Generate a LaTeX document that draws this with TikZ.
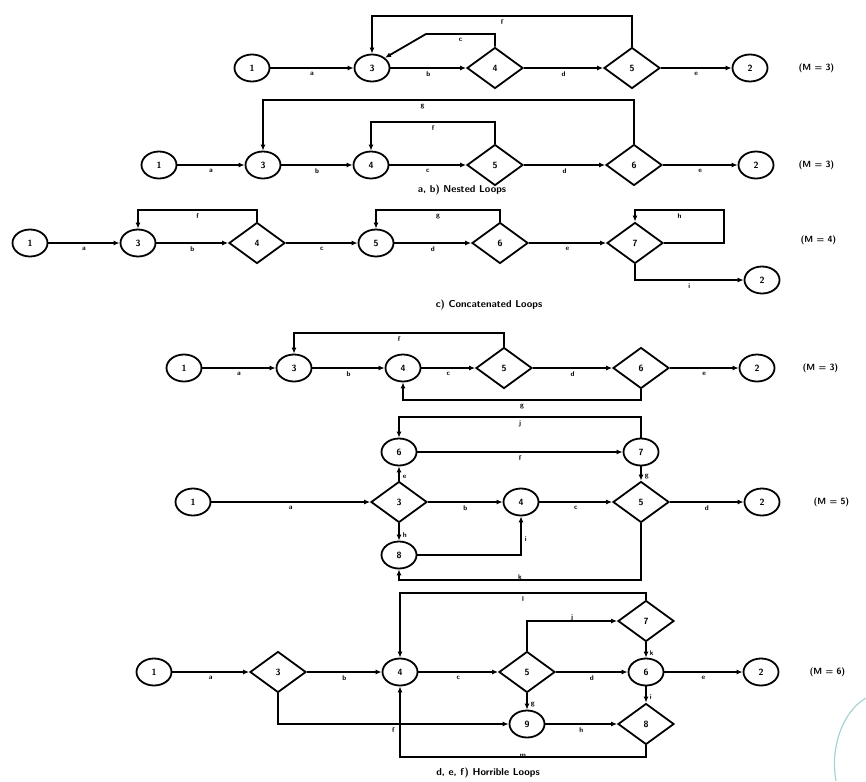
\documentclass[tikz,border=0pt]{standalone}
\usetikzlibrary{arrows.meta,shapes.geometric}

\begin{document}
\begin{tikzpicture}[x=1pt,y=-1pt,
  cnode/.style={draw, ellipse, line width=1.8pt, minimum width=35pt, minimum height=27pt, inner sep=0pt, font=\sffamily\bfseries\fontsize{9}{9}\selectfont},
  dnode/.style={draw, diamond, line width=1.8pt, minimum width=56pt, minimum height=41pt, inner sep=0pt, font=\sffamily\bfseries\fontsize{9}{9}\selectfont},
  flow/.style={line width=1.8pt, -{Latex[length=6pt,width=5pt]}},
  elab/.style={font=\sffamily\bfseries\fontsize{7}{7}\selectfont, below=3pt, inner sep=0pt},
  mlab/.style={font=\sffamily\bfseries\fontsize{9}{9}\selectfont, anchor=west},
  captxt/.style={font=\sffamily\bfseries\fontsize{10}{10}\selectfont}]
\useasboundingbox (0,0) rectangle (866,781);

% a) nested loops
\node[cnode] (a1) at (252,68) {1};
\node[cnode] (a3) at (372,68) {3};
\node[dnode] (a4) at (495,68) {4};
\node[dnode] (a5) at (632,68) {5};
\node[cnode] (a2) at (750,68) {2};
\node[mlab] (ma) at (795,68) {(M = 3)};
\draw[flow] (a1) -- node[elab] {a} (a3);
\draw[flow] (a3) -- node[elab] {b} (a4);
\draw[flow] (a4) -- node[elab] {d} (a5);
\draw[flow] (a5) -- node[elab] {e} (a2);
\draw[flow] (a4.north) -- (a4.north |- 0,34) -- node[elab] {c} (426,34) -- (a3.north east);
\draw[flow] (a5.north) -- (a5.north |- 0,16) -- node[elab] {f} (a3.north |- 0,16) -- (a3.north);

% b) nested loops
\node[cnode] (b1) at (159,165) {1};
\node[cnode] (b3) at (263,165) {3};
\node[cnode] (b4) at (371,165) {4};
\node[dnode] (b5) at (495,165) {5};
\node[dnode] (b6) at (634,165) {6};
\node[cnode] (b2) at (756,165) {2};
\node[mlab] (mb) at (795,165) {(M = 3)};
\draw[flow] (b1) -- node[elab] {a} (b3);
\draw[flow] (b3) -- node[elab] {b} (b4);
\draw[flow] (b4) -- node[elab] {c} (b5);
\draw[flow] (b5) -- node[elab] {d} (b6);
\draw[flow] (b6) -- node[elab] {e} (b2);
\draw[flow] (b5.north) -- (b5.north |- 0,122) -- node[elab] {f} (b4.north |- 0,122) -- (b4.north);
\draw[flow] (b6.north) -- (b6.north |- 0,100) -- node[elab, pos=0.57] {g} (b3.north |- 0,100) -- (b3.north);
\node[captxt] (capab) at (462,190) {a, b) Nested Loops};

% c) concatenated loops
\node[cnode] (c1) at (30,243) {1};
\node[cnode] (c3) at (138,243) {3};
\node[dnode] (c4) at (257,243) {4};
\node[cnode] (c5) at (376,243) {5};
\node[dnode] (c6) at (500,243) {6};
\node[dnode] (c7) at (635,243) {7};
\node[cnode] (c2) at (762,280) {2};
\node[mlab] (mc) at (797,240) {(M = 4)};
\draw[flow] (c1) -- node[elab] {a} (c3);
\draw[flow] (c3) -- node[elab] {b} (c4);
\draw[flow] (c4) -- node[elab] {c} (c5);
\draw[flow] (c5) -- node[elab] {d} (c6);
\draw[flow] (c6) -- node[elab] {e} (c7);
\draw[flow] (c4.north) -- (c4.north |- 0,210) -- node[elab] {f} (c3.north |- 0,210) -- (c3.north);
\draw[flow] (c6.north) -- (c6.north |- 0,210) -- node[elab] {g} (c5.north |- 0,210) -- (c5.north);
\draw[flow] (c7.east) -- (724,243) -- (724,210) -- node[elab] {h} (c7.north |- 0,210) -- (c7.north);
\draw[flow] (c7.south) -- (c7.south |- c2.west) -- node[elab] {i} (c2.west);
\node[captxt] (capc) at (489,305) {c) Concatenated Loops};

% d) horrible loops
\node[cnode] (d1) at (184,368) {1};
\node[cnode] (d3) at (294,368) {3};
\node[cnode] (d4) at (403,368) {4};
\node[dnode] (d5) at (504,368) {5};
\node[dnode] (d6) at (641,368) {6};
\node[cnode] (d2) at (757,368) {2};
\node[mlab] (md) at (799,368) {(M = 3)};
\draw[flow] (d1) -- node[elab] {a} (d3);
\draw[flow] (d3) -- node[elab] {b} (d4);
\draw[flow] (d4) -- node[elab] {c} (d5);
\draw[flow] (d5) -- node[elab] {d} (d6);
\draw[flow] (d6) -- node[elab] {e} (d2);
\draw[flow] (d5.north) -- (d5.north |- 0,333) -- node[elab] {f} (d3.north |- 0,333) -- (d3.north);
\draw[flow] (d6.south) -- (d6.south |- 0,400) -- node[elab] {g} (d4.south |- 0,400) -- (d4.south);

% e) horrible loops
\node[cnode] (e1) at (193,502) {1};
\node[dnode] (e3) at (399,502) {3};
\node[cnode] (e4) at (521,502) {4};
\node[dnode] (e5) at (641,502) {5};
\node[cnode] (e2) at (762,502) {2};
\node[cnode] (e6) at (399,452) {6};
\node[cnode] (e7) at (641,452) {7};
\node[cnode] (e8) at (399,555) {8};
\node[mlab] (me) at (810,502) {(M = 5)};
\draw[flow] (e1) -- node[elab] {a} (e3);
\draw[flow] (e3) -- node[elab] {b} (e4);
\draw[flow] (e4) -- node[elab] {c} (e5);
\draw[flow] (e5) -- node[elab] {d} (e2);
\draw[flow] (e3) -- node[elab, below=0pt, right=3pt] {e} (e6);
\draw[flow] (e6) -- node[elab] {f} (e7);
\draw[flow] (e7) -- node[elab, below=0pt, right=3pt] {g} (e5);
\draw[flow] (e3) -- node[elab, below=0pt, right=3pt] {h} (e8);
\draw[flow] (e8.east) -- (e4.south |- e8.east) -- node[elab, below=0pt, right=3pt] {i} (e4.south);
\draw[flow] (e7.north) -- (e7.north |- 0,417) -- node[elab] {j} (e6.north |- 0,417) -- (e6.north);
\draw[flow] (e5.south) -- (e5.south |- 0,580) -- node[elab, below=0pt, above=3pt] {k} (e8.south |- 0,580) -- (e8.south);

% f) horrible loops
\node[cnode] (f1) at (154,672) {1};
\node[dnode] (f3) at (278,672) {3};
\node[cnode] (f4) at (400,672) {4};
\node[dnode] (f5) at (527,672) {5};
\node[cnode] (f6) at (646,672) {6};
\node[cnode] (f2) at (761,672) {2};
\node[dnode] (f7) at (646,621) {7};
\node[cnode] (f9) at (527,724) {9};
\node[dnode] (f8) at (646,724) {8};
\node[mlab] (mf) at (806,672) {(M = 6)};
\draw[flow] (f1) -- node[elab] {a} (f3);
\draw[flow] (f3) -- node[elab] {b} (f4);
\draw[flow] (f4) -- node[elab] {c} (f5);
\draw[flow] (f5) -- node[elab] {d} (f6);
\draw[flow] (f6) -- node[elab] {e} (f2);
\draw[flow] (f3.south) -- (f3.south |- f9.west) -- node[elab] {f} (f9.west);
\draw[flow] (f5) -- node[elab, below=0pt, right=3pt] {g} (f9);
\draw[flow] (f9) -- node[elab] {h} (f8);
\draw[flow] (f6) -- node[elab, below=0pt, right=3pt] {i} (f8);
\draw[flow] (f5.north) -- (f5.north |- f7.west) -- node[elab, below=0pt, above=2pt] {j} (f7.west);
\draw[flow] (f7) -- node[elab, below=0pt, right=3pt] {k} (f6);
\draw[flow] (f7.north) -- (f7.north |- 0,593) -- node[elab] {l} (f4.north |- 0,593) -- (f4.north);
\draw[flow] (f8.south) -- (f8.south |- 0,757) -- node[elab, below=0pt, above=2pt] {m} (f4.south |- 0,757) -- (f4.south);
\node[captxt] (capdef) at (488,773) {d, e, f) Horrible Loops};

\draw[teal!35, line width=1.2pt] (866,698) .. controls (842,712) and (830,748) .. (836,781);
\end{tikzpicture}
\end{document}
